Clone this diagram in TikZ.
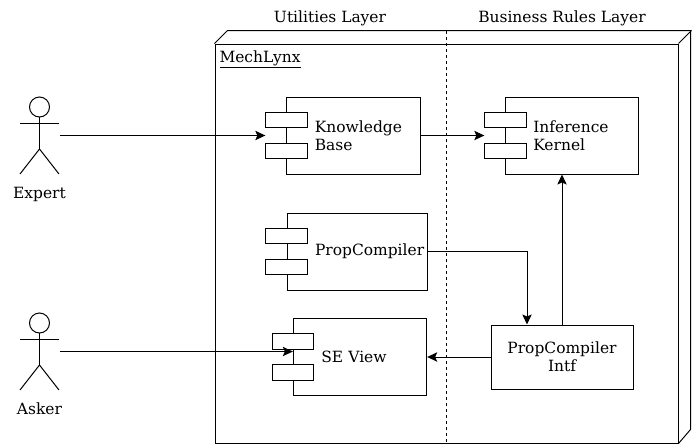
\documentclass[tikz,border=0pt]{standalone}
\usepackage{fontspec}
\setmainfont{DejaVu Serif}
\usetikzlibrary{arrows.meta}
\tikzstyle{every node}=[font=\fontsize{11.6}{13.5}\selectfont]
\tikzstyle{body} = [rectangle, draw, fill=white, inner xsep=0pt, inner ysep=0pt,
    minimum height=57.75pt, text width=100pt, align=left,
    execute at begin node={\leftskip=21pt}]
\tikzstyle{wide} = [text width=105pt]
\tikzstyle{tab} = [rectangle, draw, fill=white, inner sep=0pt,
    minimum width=31pt, minimum height=11.5pt]
\tikzstyle{plain} = [rectangle, draw, fill=white, inner sep=0pt,
    minimum width=106.5pt, minimum height=48pt, align=center]
\tikzstyle{actor} = [rectangle, inner sep=0pt, minimum width=29.25pt,
    minimum height=57.75pt, label={[label distance=5.5pt]below:#1}]
\tikzstyle{line} = [draw, -{Stealth[length=7.5pt,width=7pt,inset=1.5pt]}]
\tikzset{stickman/.pic={
    \draw (0,-28.5) circle (7.5pt);
    \draw (0,-18.5) -- (0,13.5);
    \draw (-19.5,-12.5) -- (19.5,-12.5);
    \draw (-19.5,38.5) -- (0,13.5) -- (19.5,38.5);
}}

\begin{document}
\begin{tikzpicture}[x=0.75pt, y=-0.75pt, line width=0.75pt]
    \useasboundingbox (0,0) rectangle (699,447);
    % Node
    \node [rectangle, draw, inner sep=0pt, minimum width=347.25pt, minimum height=299.25pt] (mechlynx) at (446.5,243.5) {};
    \draw (mechlynx.north west) -- ++(13,-13) -- ++(463,0) -- ++(0,399) -- (mechlynx.south east);
    \draw (mechlynx.north east) -- ++(13,-13);
    \node [inner sep=0pt, anchor=north west] (title) at (219,50) {\underline{MechLynx}};
    \node (utilities) at (330,18) {Utilities Layer};
    \node (business) at (562,18) {Business Rules Layer};
    \coordinate (splittop) at (446,31);
    \coordinate (splitbot) at (446,443);
    \draw [dash pattern=on 2.25pt off 2.25pt] (splittop) -- (splitbot);
    % Actors
    \node [actor=Expert] (expert) at (39.5,135.5) {};
    \node [actor=Asker] (asker) at (39.5,351.5) {};
    \pic at (expert) {stickman};
    \pic at (asker) {stickman};
    % Components
    \node [body] (kb) at (353.5,135.5) {Knowledge\\Base};
    \node [tab] (kbtop) at (286.5,120) {};
    \node [tab] (kbbot) at (286.5,151) {};
    \node [body] (kernel) at (572,135.5) {Inference\\Kernel};
    \node [tab] (kerneltop) at (505.5,120) {};
    \node [tab] (kernelbot) at (505.5,151) {};
    \node [body, wide] (compiler) at (357,251.5) {PropCompiler};
    \node [tab] (compilertop) at (286.5,236) {};
    \node [tab] (compilerbot) at (286.5,267) {};
    \node [body] (seview) at (360,356.5) {SE View};
    \node [tab] (seviewtop) at (293,341.5) {};
    \node [tab] (seviewbot) at (293,372.5) {};
    \node [plain] (intf) at (562,357) {PropCompiler\\Intf};
    % Edges
    \path [line] (expert.east) -- (kbtop.west |- kb.west);
    \path [line] (kb.east) -- (kerneltop.west |- kernel.west);
    \path [line] (compiler.east) -| ([xshift=-26.25pt]intf.north);
    \path [line] (intf.north) -- (intf.north |- kernel.south);
    \path [line] (intf.west) -- (seview.east |- intf.west);
    \path [line] (asker.east) -- (seview.west |- asker.east);
\end{tikzpicture}
\end{document}
